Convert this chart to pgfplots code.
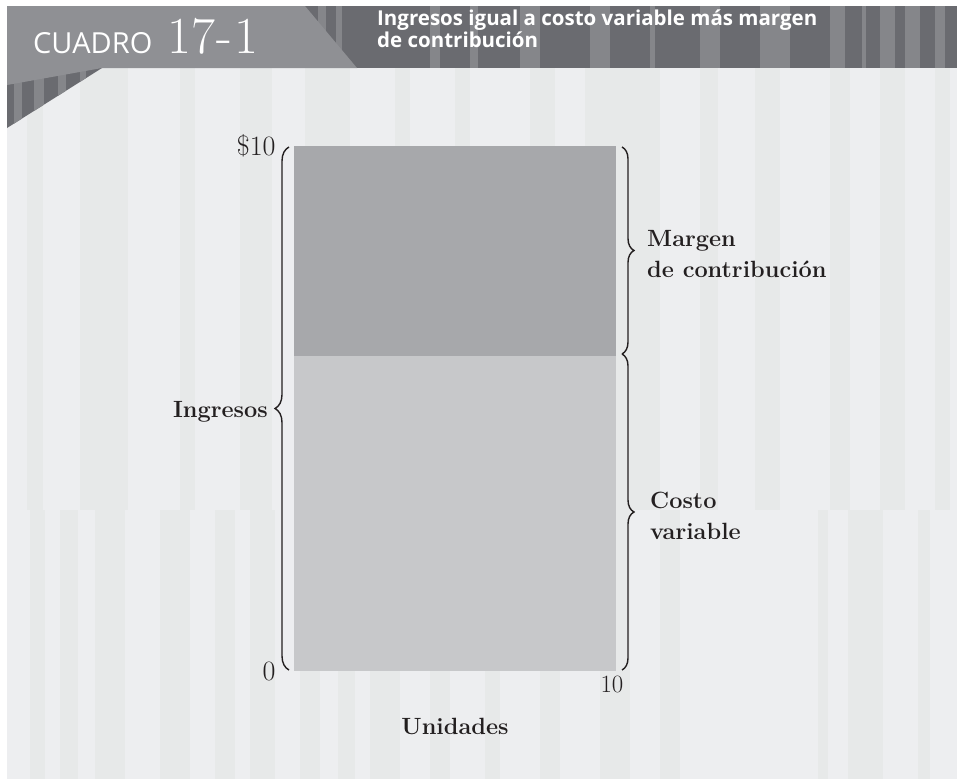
\documentclass[border=0pt]{standalone}
\usepackage{fontspec}
\newfontfamily\headsans{Open Sans}
\usepackage{pgfplots}
\pgfplotsset{compat=1.18}
\usetikzlibrary{decorations.pathreplacing}

\definecolor{bgbase}{HTML}{EDEEF0}
\definecolor{bgstripe}{HTML}{E7E9E9}
\definecolor{bandbase}{HTML}{6A6B70}
\definecolor{bandstripe}{HTML}{85868A}
\definecolor{tabgray}{HTML}{8F9094}
\definecolor{margc}{HTML}{A7A8AB}
\definecolor{costc}{HTML}{C7C8CA}
\definecolor{inkc}{HTML}{231F20}

\newcommand{\lbl}{\fontsize{23.5}{31}\selectfont\bfseries}

\begin{document}
\begin{tikzpicture}
\useasboundingbox (0,0) rectangle (957pt,-779pt);
\begin{scope}[x=1pt,y=-1pt]
  % page and background stripes
  \fill[white] (0,0) rectangle (957,779);
  \fill[bgbase] (7,68) rectangle (957,779);
  \foreach \a/\b in {27/43, 80/128, 180/195, 240/272, 305/350, 395/410,
                     455/470, 530/555, 585/660, 700/718, 755/780, 830/850,
                     880/905, 935/950}
    \fill[bgstripe] (\a,68) rectangle (\b,510);
  \foreach \a/\b in {30/45, 60/78, 95/125, 160/190, 215/235, 250/275,
                     300/320, 338/355, 370/400, 430/450, 485/500, 540/560,
                     600/630, 660/680, 818/828, 848/883, 918/930}
    \fill[bgstripe] (\a,510) rectangle (\b,779);
  % header band
  \fill[bandbase] (7,6) rectangle (957,68);
  \foreach \a/\b in {318/326, 336/342, 430/440, 470/478, 520/540, 590/610,
                     650/655, 700/720, 760/790, 830/845, 862/866, 880/895,
                     905/920, 935/945}
    \fill[bandstripe] (\a,6) rectangle (\b,68);
  \fill[tabgray] (7,6) -- (305,6) -- (357,68) -- (7,68) -- cycle;
  % lower triangle of the tab
  \fill[bandbase] (7,68) -- (102,68) -- (7,128) -- cycle;
  \begin{scope}
    \clip (7,68) -- (102,68) -- (7,128) -- cycle;
    \foreach \a/\b in {14/22, 34/44, 58/66, 80/86}
      \fill[bandstripe] (\a,68) rectangle (\b,130);
  \end{scope}
  \fill[tabgray] (7,68) -- (102,68) -- (7,85) -- cycle;
  % header texts
  \node[anchor=base west, inner sep=0, text=white,
        font=\headsans\fontsize{29}{30}\selectfont] at (33,53) {CUADRO};
  \node[anchor=base west, inner sep=0, text=white,
        font=\fontsize{52}{52}\selectfont] at (167,53) {17\kern2pt-\kern2pt1};
  \node[anchor=base west, inner sep=0, text=white,
        font=\headsans\bfseries\fontsize{20.5}{22}\selectfont] at (377,25)
        {Ingresos igual a costo variable más margen};
  \node[anchor=base west, inner sep=0, text=white,
        font=\headsans\bfseries\fontsize{20.5}{22}\selectfont] at (377,47)
        {de contribución};
\end{scope}

\begin{axis}[
  at={(294pt,-671pt)}, anchor=south west,
  scale only axis, width=322pt, height=525pt,
  xmin=0, xmax=10, ymin=0, ymax=10,
  stack plots=y,
  axis line style={draw=none},
  tick style={draw=none},
  xtick={10}, ytick={0,10}, yticklabels={0,\$10},
  tick label style={font=\fontsize{28}{28}\selectfont, text=inkc},
  yticklabel style={xshift=-15pt},
  xticklabel style={xshift=-4pt, yshift=-2pt},
  xlabel={Unidades},
  xlabel style={at={(axis description cs:0.5,0)}, anchor=center,
                yshift=-55pt, font=\lbl, text=inkc},
]
\addplot[fill=costc, draw=none] coordinates {(0,6) (10,6)} \closedcycle;
\addplot[fill=margc, draw=none] coordinates {(0,4) (10,4)} \closedcycle;
\end{axis}

\begin{scope}[x=1pt,y=-1pt]
  \draw[inkc, line width=1.4pt, decorate, decoration={brace, amplitude=14pt}]
    (289,670) -- (289,147);
  \draw[inkc, line width=1.4pt, decorate, decoration={brace, amplitude=12pt}]
    (622,147) -- (622,354);
  \draw[inkc, line width=1.4pt, decorate, decoration={brace, amplitude=12pt}]
    (622,354) -- (622,670);
  \node[anchor=base east, inner sep=0, text=inkc, font=\lbl] at (268,417) {Ingresos};
  \node[anchor=base west, inner sep=0, text=inkc, font=\lbl] at (647,246) {Margen};
  \node[anchor=base west, inner sep=0, text=inkc, font=\lbl] at (647,277) {de contribución};
  \node[anchor=base west, inner sep=0, text=inkc, font=\lbl] at (650,508) {Costo};
  \node[anchor=base west, inner sep=0, text=inkc, font=\lbl] at (650,539) {variable};
\end{scope}
\end{tikzpicture}
\end{document}
